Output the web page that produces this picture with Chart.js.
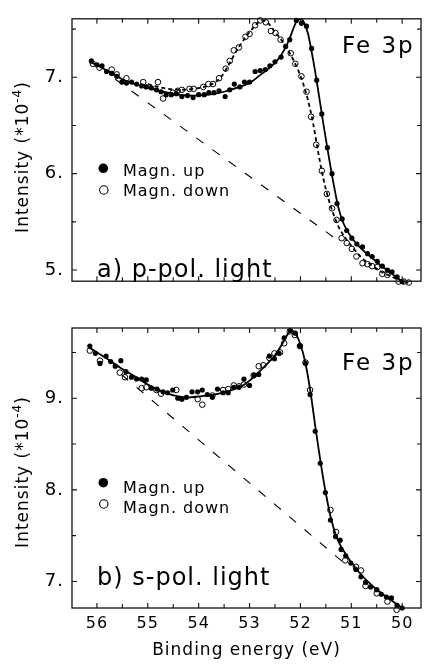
<!DOCTYPE html>
<html><head><meta charset="utf-8">
<script src="https://cdn.jsdelivr.net/npm/chart.js@4.4.1/dist/chart.umd.min.js"></script>
<style>
html,body{margin:0;padding:0;background:#fff;overflow:hidden;width:426px;height:669px;}
canvas{position:absolute;left:0;}
#p1{top:0;}
#p2{top:300px;}
</style></head><body>
<canvas id="p1" width="426" height="300"></canvas>
<canvas id="p2" width="426" height="369"></canvas>
<script>
// ---------- tick labels ----------
const xTickValues = [56, 55, 54, 53, 52, 51, 50];
const xTickLabels = ['56', '55', '54', '53', '52', '51', '50'];
const yTickValuesA = [5, 6, 7];
const yTickLabelsA = ['5.', '6.', '7.'];
const yTickValuesB = [7, 8, 9];
const yTickLabelsB = ['7.', '8.', '9.'];
const seriesNames = ['Magn. up', 'Magn. down'];
const panelTitles = ['a) p-pol. light', 'b) s-pol. light'];
const elementLabel = 'Fe 3p';
const xTitle = 'Binding energy (eV)';
const yTitleParts = ['Intensity (*10', '-4', ')'];

// ---------- panel a: data points ----------
const upA_x = [56.11,56.00,55.90,55.81,55.71,55.61,55.51,55.42,55.32,55.22,55.12,55.03,54.93,54.83,54.74,54.64,54.54,54.44,54.33,54.22,54.11,54.00,53.89,53.80,53.70,53.60,53.48,53.39,53.30,53.19,53.10,53.00,52.89,52.79,52.69,52.60,52.50,52.38,52.29,52.21,52.08,51.98,51.88,51.78,51.68,51.58,51.47,51.38,51.28,51.18,51.09,50.99,50.89,50.78,50.68,50.59,50.49,50.39,50.29,50.20,50.10,50.00];
const upA_y = [7.17,7.13,7.12,7.06,7.04,7.01,6.95,6.94,6.95,6.93,6.91,6.90,6.89,6.87,6.85,6.82,6.82,6.83,6.80,6.81,6.79,6.82,6.82,6.84,6.84,6.86,6.80,6.87,6.93,6.90,6.95,6.95,7.06,7.07,7.08,7.12,7.16,7.21,7.32,7.39,7.59,7.56,7.53,7.30,6.97,6.62,6.27,6.00,5.69,5.53,5.41,5.33,5.27,5.24,5.17,5.14,5.09,5.04,5.00,4.98,4.93,4.88];
const downA_x = [56.08,55.95,55.71,55.61,55.42,55.09,54.80,54.70,54.51,54.41,54.33,54.18,54.10,53.91,53.81,53.72,53.60,53.47,53.39,53.31,53.21,53.08,53.00,52.89,52.79,52.68,52.58,52.49,52.39,52.19,52.10,51.98,51.88,51.79,51.69,51.58,51.48,51.38,51.29,51.19,51.09,50.99,50.90,50.78,50.68,50.59,50.49,50.39,50.29,50.07,49.97,49.87];
const downA_y = [7.14,7.10,7.08,7.03,6.99,6.95,6.95,6.78,6.84,6.86,6.87,6.88,6.88,6.90,6.93,6.93,6.99,7.09,7.17,7.28,7.31,7.42,7.45,7.54,7.59,7.57,7.48,7.46,7.39,7.25,7.14,7.01,6.85,6.59,6.30,6.03,5.79,5.64,5.52,5.33,5.28,5.22,5.14,5.07,5.06,5.04,5.03,4.96,4.95,4.88,4.88,4.87];
// fitted curves, panel a
const fitUpA_x = [56.13,55.8,55.5,55.2,55.0,54.7,54.4,54.1,53.8,53.5,53.2,53.0,52.8,52.6,52.45,52.3,52.2,52.12,52.05,51.98,51.92,51.85,51.75,51.65,51.55,51.45,51.35,51.25,51.15,51.0,50.8,50.6,50.4,50.2,50.0];
const fitUpA_y = [7.16,7.07,6.98,6.92,6.89,6.85,6.82,6.81,6.82,6.85,6.90,6.94,7.02,7.10,7.18,7.30,7.42,7.53,7.60,7.60,7.56,7.45,7.18,6.86,6.52,6.20,5.90,5.64,5.48,5.34,5.22,5.13,5.04,4.96,4.88];
const fitDownA_x = [55.0,54.7,54.4,54.1,53.9,53.7,53.55,53.4,53.25,53.1,52.95,52.85,52.75,52.65,52.5,52.35,52.2,52.05,51.95,51.85,51.75,51.65,51.55,51.45,51.35,51.25,51.1,50.95,50.8,50.6,50.4,50.2,50.0,49.88];
const fitDownA_y = [6.93,6.89,6.87,6.88,6.90,6.94,7.01,7.14,7.28,7.40,7.50,7.56,7.59,7.57,7.47,7.37,7.24,7.08,6.94,6.76,6.52,6.22,5.95,5.74,5.58,5.45,5.32,5.22,5.13,5.05,4.98,4.93,4.88,4.87];
const bgA_x = [55.64, 51.27];
const bgA_y = [6.98, 5.31];

// ---------- panel b: data points ----------
const upB_x = [56.14,56.03,55.94,55.82,55.73,55.64,55.53,55.43,55.32,55.22,55.12,55.03,54.93,54.82,54.70,54.61,54.51,54.41,54.33,54.24,54.13,54.02,53.93,53.83,53.73,53.63,53.52,53.42,53.31,53.21,53.11,53.00,52.91,52.82,52.61,52.51,52.42,52.32,52.20,52.10,52.01,51.90,51.81,51.71,51.61,51.51,51.41,51.31,51.22,51.20,51.11,51.01,50.91,50.81,50.72,50.62,50.50,50.41,50.31,50.21,50.10,50.00];
const upB_y = [9.57,9.49,9.38,9.46,9.40,9.35,9.41,9.29,9.23,9.21,9.21,9.20,9.11,9.10,9.07,9.06,9.09,9.00,8.99,9.01,9.07,9.07,9.09,9.04,9.01,9.10,9.06,9.06,9.12,9.12,9.21,9.14,9.25,9.26,9.46,9.43,9.49,9.66,9.74,9.71,9.57,9.38,9.04,8.64,8.29,7.97,7.67,7.49,7.45,7.35,7.28,7.20,7.13,7.05,6.99,6.94,6.91,6.86,6.83,6.82,6.74,6.71];
const downB_x = [56.14,55.94,55.55,55.45,55.12,55.03,54.83,54.74,54.44,54.02,53.93,53.73,53.52,53.42,53.31,53.21,53.11,52.92,52.82,52.73,52.61,52.51,52.40,52.32,52.21,52.11,52.01,51.90,51.81,51.41,51.30,51.12,50.91,50.81,50.72,50.50,50.29,50.11];
const downB_y = [9.52,9.41,9.28,9.23,9.11,9.12,9.09,9.05,9.09,8.99,8.93,9.03,9.09,9.10,9.14,9.13,9.15,9.25,9.35,9.36,9.44,9.49,9.50,9.60,9.73,9.69,9.57,9.39,9.09,7.78,7.54,7.23,7.16,7.12,6.95,6.87,6.78,6.69];
const fitB_x = [56.14,55.8,55.5,55.2,55.0,54.7,54.4,54.2,54.0,53.7,53.4,53.1,52.9,52.7,52.5,52.35,52.25,52.18,52.1,52.0,51.9,51.8,51.7,51.6,51.5,51.4,51.3,51.2,51.1,51.0,50.8,50.6,50.4,50.2,50.0];
const fitB_y = [9.55,9.43,9.32,9.22,9.15,9.07,9.02,9.01,9.02,9.04,9.08,9.15,9.24,9.35,9.47,9.60,9.70,9.74,9.71,9.59,9.38,9.06,8.66,8.29,7.96,7.69,7.50,7.38,7.29,7.21,7.07,6.96,6.87,6.79,6.71];
const bgB_x = [55.52, 51.14];
const bgB_y = [9.26, 7.20];

// ---------- helpers ----------
const FONT = "'DejaVu Sans', 'Liberation Sans', sans-serif";
const pts = (xs, ys) => xs.map((x, i) => ({x, y: ys[i]}));

function pointsDs(xs, ys, filled) {
  return {
    data: pts(xs, ys), showLine: false,
    pointRadius: filled ? 2.6 : 2.8,
    pointBorderWidth: filled ? 0 : 1,
    pointBackgroundColor: filled ? '#000' : 'rgba(0,0,0,0)',
    pointBorderColor: '#000',
    clip: 5
  };
}
function lineDs(xs, ys, dash, width, smooth) {
  return {
    data: pts(xs, ys), showLine: true, pointRadius: 0,
    borderColor: '#000', borderWidth: width, borderDash: dash,
    cubicInterpolationMode: smooth ? 'monotone' : 'default', tension: 0,
    fill: false, clip: 3
  };
}

function labelFrom(values, labels) {
  return (v) => { const i = values.indexOf(v); return i >= 0 ? labels[i] : ''; };
}

function drawText(ctx, s, x, y, size, ls, align) {
  ctx.save();
  ctx.font = size + 'px ' + FONT;
  ctx.letterSpacing = ls + 'px';
  ctx.fillStyle = '#000';
  ctx.textAlign = align || 'left';
  ctx.textBaseline = 'alphabetic';
  ctx.fillText(s, x, y);
  ctx.restore();
}

function drawFrame(chart) {
  const {ctx, chartArea: a} = chart;
  const xs = chart.scales.x, ys = chart.scales.y;
  ctx.save();
  ctx.strokeStyle = '#111';
  ctx.lineWidth = 1.3;
  ctx.strokeRect(a.left, a.top, a.right - a.left, a.bottom - a.top);
  ctx.lineWidth = 1.1;
  ctx.beginPath();
  for (const t of xs.ticks) {
    const p = xs.getPixelForValue(t.value);
    if (p < a.left + 1 || p > a.right - 1) continue;
    const L = Number.isInteger(t.value) ? 5 : 4;
    ctx.moveTo(p, a.bottom); ctx.lineTo(p, a.bottom - L);
    ctx.moveTo(p, a.top); ctx.lineTo(p, a.top + L);
  }
  for (const t of ys.ticks) {
    const p = ys.getPixelForValue(t.value);
    if (p < a.top + 1 || p > a.bottom - 1) continue;
    const L = Number.isInteger(t.value) ? 5 : 4;
    ctx.moveTo(a.left, p); ctx.lineTo(a.left + L, p);
    ctx.moveTo(a.right, p); ctx.lineTo(a.right - L, p);
  }
  ctx.stroke();
  ctx.restore();
}

function drawLegend(ctx, cx, cy1, cy2, tx, by1, by2) {
  ctx.save();
  ctx.fillStyle = '#000'; ctx.strokeStyle = '#000';
  ctx.beginPath(); ctx.arc(cx, cy1, 4.8, 0, Math.PI * 2); ctx.fill();
  ctx.lineWidth = 1.1;
  ctx.beginPath(); ctx.arc(cx + 0.5, cy2, 4.2, 0, Math.PI * 2); ctx.stroke();
  ctx.restore();
  drawText(ctx, seriesNames[0], tx, by1, 16, 1);
  drawText(ctx, seriesNames[1], tx, by2, 16, 1);
}

function drawYTitle(ctx, bx, cy) {
  ctx.save();
  ctx.translate(bx, cy);
  ctx.rotate(-Math.PI / 2);
  ctx.fillStyle = '#000';
  ctx.textBaseline = 'alphabetic';
  ctx.textAlign = 'left';
  ctx.letterSpacing = '1px';
  ctx.font = '17px ' + FONT;
  const w1 = ctx.measureText(yTitleParts[0]).width;
  const w3 = ctx.measureText(yTitleParts[2]).width;
  ctx.font = '12px ' + FONT;
  const w2 = ctx.measureText(yTitleParts[1]).width;
  let x0 = -(w1 + w2 + w3) / 2;
  ctx.font = '17px ' + FONT;
  ctx.fillText(yTitleParts[0], x0, 0);
  ctx.font = '12px ' + FONT;
  ctx.fillText(yTitleParts[1], x0 + w1, -7);
  ctx.font = '17px ' + FONT;
  ctx.fillText(yTitleParts[2], x0 + w1 + w2, 0);
  ctx.restore();
}

const spacingPlugin = {
  id: 'spacing',
  beforeDraw(chart) { chart.ctx.letterSpacing = '1px'; }
};

Chart.defaults.font.family = FONT;
Chart.defaults.color = '#000';

function baseOptions(padTop, yMin, yMax, yVals, yLabels, showX) {
  return {
    responsive: false, animation: false, devicePixelRatio: 1, events: [],
    layout: {padding: {left: 0, right: 2, top: padTop, bottom: 0}},
    plugins: {legend: {display: false}, tooltip: {enabled: false}},
    scales: {
      x: {
        type: 'linear', reverse: true, min: 49.63, max: 56.49,
        grid: {display: false, drawTicks: false}, border: {display: false},
        ticks: {display: showX, stepSize: 0.5, autoSkip: false, maxRotation: 0, includeBounds: false,
                padding: 6, font: {size: 16}, color: '#000',
                callback: labelFrom(xTickValues, xTickLabels)},
        afterFit: (s) => { s.height = showX ? 61 : 7; }
      },
      y: {
        type: 'linear', min: yMin, max: yMax,
        grid: {display: false, drawTicks: false}, border: {display: false},
        ticks: {stepSize: 0.5, autoSkip: false, includeBounds: false, padding: 8,
                font: {size: 18}, color: '#000',
                callback: labelFrom(yVals, yLabels)},
        afterFit: (s) => { s.width = 72; }
      }
    }
  };
}

// ---------- panel a ----------
new Chart(document.getElementById('p1'), {
  type: 'scatter',
  data: {datasets: [
    pointsDs(upA_x, upA_y, true),
    pointsDs(downA_x, downA_y, false),
    lineDs(fitUpA_x, fitUpA_y, [], 1.8, true),
    lineDs(fitDownA_x, fitDownA_y, [4, 3], 1.8, true),
    lineDs(bgA_x, bgA_y, [9, 11], 1.1, false)
  ]},
  options: baseOptions(12, 4.884, 7.607, yTickValuesA, yTickLabelsA, false),
  plugins: [spacingPlugin, {
    id: 'decorA',
    afterDraw(chart) {
      const ctx = chart.ctx;
      drawFrame(chart);
      drawText(ctx, elementLabel, 342, 53, 23, 2);
      drawText(ctx, panelTitles[0], 97, 277, 24, 1);
      drawLegend(ctx, 103.3, 168.3, 190, 123, 175.5, 196);
      drawYTitle(ctx, 28, 157);
    }
  }]
});

// ---------- panel b ----------
new Chart(document.getElementById('p2'), {
  type: 'scatter',
  data: {datasets: [
    pointsDs(upB_x, upB_y, true),
    pointsDs(downB_x, downB_y, false),
    lineDs(fitB_x, fitB_y, [], 1.8, true),
    lineDs(bgB_x, bgB_y, [9, 11], 1.1, false)
  ]},
  options: baseOptions(28, 6.71, 9.767, yTickValuesB, yTickLabelsB, true),
  plugins: [spacingPlugin, {
    id: 'decorB',
    afterDraw(chart) {
      const ctx = chart.ctx;
      drawFrame(chart);
      drawText(ctx, elementLabel, 342, 70, 23, 2);
      drawText(ctx, panelTitles[1], 97, 285, 24, 1);
      drawLegend(ctx, 103.3, 182.7, 204, 123, 192.5, 212.8);
      drawYTitle(ctx, 28, 172);
      const a = chart.chartArea;
      drawText(ctx, xTitle, (a.left + a.right) / 2, 355, 17, 1, 'center');
    }
  }]
});
</script>
</body></html>
